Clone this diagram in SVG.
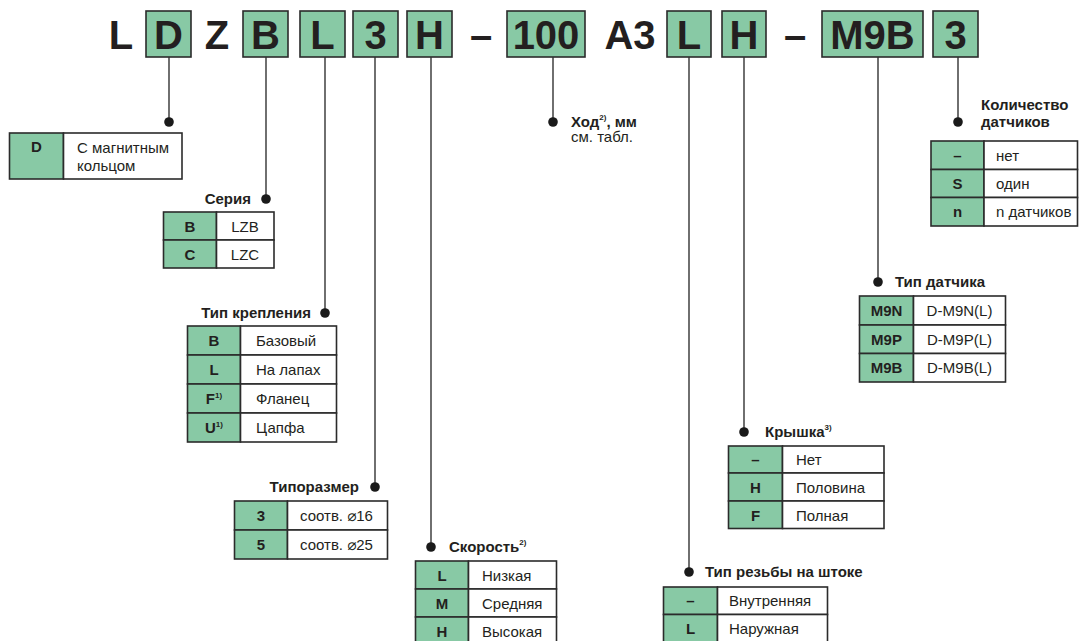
<svg xmlns="http://www.w3.org/2000/svg" width="1079" height="641" viewBox="0 0 1079 641">
<style>
.bg{fill:#ffffff}
.code{font-family:"Liberation Sans",Arial,sans-serif;font-weight:bold;font-size:40px;fill:#231f20;text-anchor:middle}
.cbox{fill:#88c9a5;stroke:#2b2b2b;stroke-width:1.6}
.g{fill:#88c9a5;stroke:#2b2b2b;stroke-width:1.6}
.w{fill:#ffffff;stroke:#2b2b2b;stroke-width:1.6}
.k{font-family:"Liberation Sans",Arial,sans-serif;font-weight:bold;font-size:15px;fill:#231f20;text-anchor:middle}
.t{font-family:"Liberation Sans","DejaVu Sans",Arial,sans-serif;font-size:15px;fill:#231f20}
.tc{font-family:"Liberation Sans","DejaVu Sans",Arial,sans-serif;font-size:15px;fill:#231f20;text-anchor:middle}
.lab{font-family:"Liberation Sans",Arial,sans-serif;font-weight:bold;font-size:15px;fill:#231f20}
.sup{font-size:8px;font-weight:bold}
.ln{stroke:#333333;stroke-width:1.4;fill:none}
.dot{fill:#1a1a1a}
</style>
<rect class="bg" x="0" y="0" width="1079" height="641"/>

<g id="code">
<text class="code" x="121" y="49">L</text>
<rect class="cbox" x="146" y="11" width="45" height="46"/><text class="code" x="168.5" y="49">D</text>
<text class="code" x="217" y="49">Z</text>
<rect class="cbox" x="243" y="11" width="45" height="46"/><text class="code" x="265.5" y="49">B</text>
<rect class="cbox" x="300" y="11" width="45" height="46"/><text class="code" x="322.5" y="49">L</text>
<rect class="cbox" x="353" y="11" width="45" height="46"/><text class="code" x="375.5" y="49">3</text>
<rect class="cbox" x="407" y="11" width="45" height="46"/><text class="code" x="429.5" y="49">H</text>
<text class="code" x="481" y="49">–</text>
<rect class="cbox" x="507" y="11" width="78" height="46"/><text class="code" x="546" y="49">100</text>
<text class="code" x="630" y="49">A3</text>
<rect class="cbox" x="667" y="11" width="44" height="46"/><text class="code" x="689" y="49">L</text>
<rect class="cbox" x="722" y="11" width="44" height="46"/><text class="code" x="744" y="49">H</text>
<text class="code" x="795" y="49">–</text>
<rect class="cbox" x="822" y="11" width="101" height="46"/><text class="code" x="872.5" y="49">M9B</text>
<rect class="cbox" x="933" y="11" width="45" height="46"/><text class="code" x="955.5" y="49">3</text>
</g>

<g id="connectors">
<line class="ln" x1="169" y1="57" x2="169" y2="122"/><circle class="dot" cx="169" cy="122" r="4.8"/>
<line class="ln" x1="266" y1="57" x2="266" y2="199"/><circle class="dot" cx="266" cy="199" r="4.8"/>
<line class="ln" x1="325" y1="57" x2="325" y2="313"/><circle class="dot" cx="325" cy="313" r="4.8"/>
<line class="ln" x1="375" y1="57" x2="375" y2="487"/><circle class="dot" cx="375" cy="487" r="4.8"/>
<line class="ln" x1="431" y1="57" x2="431" y2="547"/><circle class="dot" cx="431" cy="547" r="4.8"/>
<line class="ln" x1="553" y1="57" x2="553" y2="122"/><circle class="dot" cx="553" cy="122" r="4.8"/>
<line class="ln" x1="689" y1="57" x2="689" y2="572"/><circle class="dot" cx="689" cy="572" r="4.8"/>
<line class="ln" x1="744" y1="57" x2="744" y2="432"/><circle class="dot" cx="744" cy="432" r="4.8"/>
<line class="ln" x1="878" y1="57" x2="878" y2="282"/><circle class="dot" cx="878" cy="282" r="4.8"/>
<line class="ln" x1="958" y1="57" x2="958" y2="122"/><circle class="dot" cx="958" cy="122" r="4.8"/>
</g>

<g id="magnet">
<rect class="g" x="9.5" y="133" width="54" height="46"/>
<rect class="w" x="63.5" y="133" width="118.5" height="46"/>
<text class="k" x="36.5" y="152">D</text>
<text class="t" x="77" y="153">С магнитным</text>
<text class="t" x="77" y="171">кольцом</text>
</g>

<g id="series">
<text class="lab" x="251" y="204" text-anchor="end">Серия</text>
<rect class="g" x="163.5" y="212" width="53" height="28"/><rect class="w" x="216.5" y="212" width="57.5" height="28"/>
<rect class="g" x="163.5" y="240" width="53" height="28"/><rect class="w" x="216.5" y="240" width="57.5" height="28"/>
<text class="k" x="190" y="231.5">B</text><text class="tc" x="245" y="231.5">LZB</text>
<text class="k" x="190" y="259.5">C</text><text class="tc" x="245" y="259.5">LZC</text>
</g>

<g id="mounting">
<text class="lab" x="311" y="318" text-anchor="end">Тип крепления</text>
<rect class="g" x="187.5" y="326" width="53" height="29"/><rect class="w" x="240.5" y="326" width="96" height="29"/>
<rect class="g" x="187.5" y="355" width="53" height="29"/><rect class="w" x="240.5" y="355" width="96" height="29"/>
<rect class="g" x="187.5" y="384" width="53" height="29"/><rect class="w" x="240.5" y="384" width="96" height="29"/>
<rect class="g" x="187.5" y="413" width="53" height="29"/><rect class="w" x="240.5" y="413" width="96" height="29"/>
<text class="k" x="214" y="346">B</text><text class="t" x="256" y="346">Базовый</text>
<text class="k" x="214" y="375">L</text><text class="t" x="256" y="375">На лапах</text>
<text class="k" x="214" y="404">F<tspan class="sup" dy="-6">1)</tspan></text><text class="t" x="256" y="404">Фланец</text>
<text class="k" x="214" y="433">U<tspan class="sup" dy="-6">1)</tspan></text><text class="t" x="256" y="433">Цапфа</text>
</g>

<g id="size">
<text class="lab" x="359" y="492" text-anchor="end">Типоразмер</text>
<rect class="g" x="234.5" y="501" width="53" height="29"/><rect class="w" x="287.5" y="501" width="100" height="29"/>
<rect class="g" x="234.5" y="530" width="53" height="29"/><rect class="w" x="287.5" y="530" width="100" height="29"/>
<text class="k" x="261" y="521">3</text><text class="t" x="300" y="521">соотв. ⌀16</text>
<text class="k" x="261" y="550">5</text><text class="t" x="300" y="550">соотв. ⌀25</text>
</g>

<g id="speed">
<text class="lab" x="449" y="552">Скорость<tspan class="sup" dy="-7">2)</tspan></text>
<rect class="g" x="415.5" y="561" width="53" height="28"/><rect class="w" x="468.5" y="561" width="88" height="28"/>
<rect class="g" x="415.5" y="589" width="53" height="28"/><rect class="w" x="468.5" y="589" width="88" height="28"/>
<rect class="g" x="415.5" y="617" width="53" height="30"/><rect class="w" x="468.5" y="617" width="88" height="30"/>
<text class="k" x="442" y="580.5">L</text><text class="t" x="482" y="580.5">Низкая</text>
<text class="k" x="442" y="608.5">M</text><text class="t" x="482" y="608.5">Средняя</text>
<text class="k" x="442" y="636.5">H</text><text class="t" x="482" y="636.5">Высокая</text>
</g>

<g id="stroke">
<text class="lab" x="571" y="127">Ход<tspan class="sup" dy="-7">2)</tspan><tspan dy="7">, мм</tspan></text>
<text class="t" x="571" y="142">см. табл.</text>
</g>

<g id="cover">
<text class="lab" x="765" y="437">Крышка<tspan class="sup" dy="-7">3)</tspan></text>
<rect class="g" x="728.5" y="446" width="54" height="27"/><rect class="w" x="782.5" y="446" width="101.5" height="27"/>
<rect class="g" x="728.5" y="473" width="54" height="28"/><rect class="w" x="782.5" y="473" width="101.5" height="28"/>
<rect class="g" x="728.5" y="501" width="54" height="27.5"/><rect class="w" x="782.5" y="501" width="101.5" height="27.5"/>
<text class="k" x="755.5" y="465">–</text><text class="t" x="796" y="465">Нет</text>
<text class="k" x="755.5" y="492.5">H</text><text class="t" x="796" y="492.5">Половина</text>
<text class="k" x="755.5" y="520.5">F</text><text class="t" x="796" y="520.5">Полная</text>
</g>

<g id="thread">
<text class="lab" x="705" y="577">Тип резьбы на штоке</text>
<rect class="g" x="663.5" y="587" width="54" height="27.5"/><rect class="w" x="717.5" y="587" width="110" height="27.5"/>
<rect class="g" x="663.5" y="614.5" width="54" height="31"/><rect class="w" x="717.5" y="614.5" width="110" height="31"/>
<text class="k" x="690.5" y="606">–</text><text class="t" x="729" y="606">Внутренняя</text>
<text class="k" x="690.5" y="633.5">L</text><text class="t" x="729" y="633.5">Наружная</text>
</g>

<g id="sensor">
<text class="lab" x="895" y="287">Тип датчика</text>
<rect class="g" x="859.5" y="296" width="54" height="29"/><rect class="w" x="913.5" y="296" width="92" height="29"/>
<rect class="g" x="859.5" y="325" width="54" height="28.5"/><rect class="w" x="913.5" y="325" width="92" height="28.5"/>
<rect class="g" x="859.5" y="353.5" width="54" height="28.5"/><rect class="w" x="913.5" y="353.5" width="92" height="28.5"/>
<text class="k" x="886.5" y="316">M9N</text><text class="tc" x="959.5" y="316">D-M9N(L)</text>
<text class="k" x="886.5" y="344.5">M9P</text><text class="tc" x="959.5" y="344.5">D-M9P(L)</text>
<text class="k" x="886.5" y="373">M9B</text><text class="tc" x="959.5" y="373">D-M9B(L)</text>
</g>

<g id="count">
<text class="lab" x="981" y="110">Количество</text>
<text class="lab" x="981" y="127">датчиков</text>
<rect class="g" x="931" y="141" width="53" height="28.5"/><rect class="w" x="984" y="141" width="93.5" height="28.5"/>
<rect class="g" x="931" y="169.5" width="53" height="28"/><rect class="w" x="984" y="169.5" width="93.5" height="28"/>
<rect class="g" x="931" y="197.5" width="53" height="28.5"/><rect class="w" x="984" y="197.5" width="93.5" height="28.5"/>
<text class="k" x="957.5" y="160.5">–</text><text class="t" x="996" y="160.5">нет</text>
<text class="k" x="957.5" y="189">S</text><text class="t" x="996" y="189">один</text>
<text class="k" x="957.5" y="217">n</text><text class="t" x="996" y="217">n датчиков</text>
</g>
</svg>
